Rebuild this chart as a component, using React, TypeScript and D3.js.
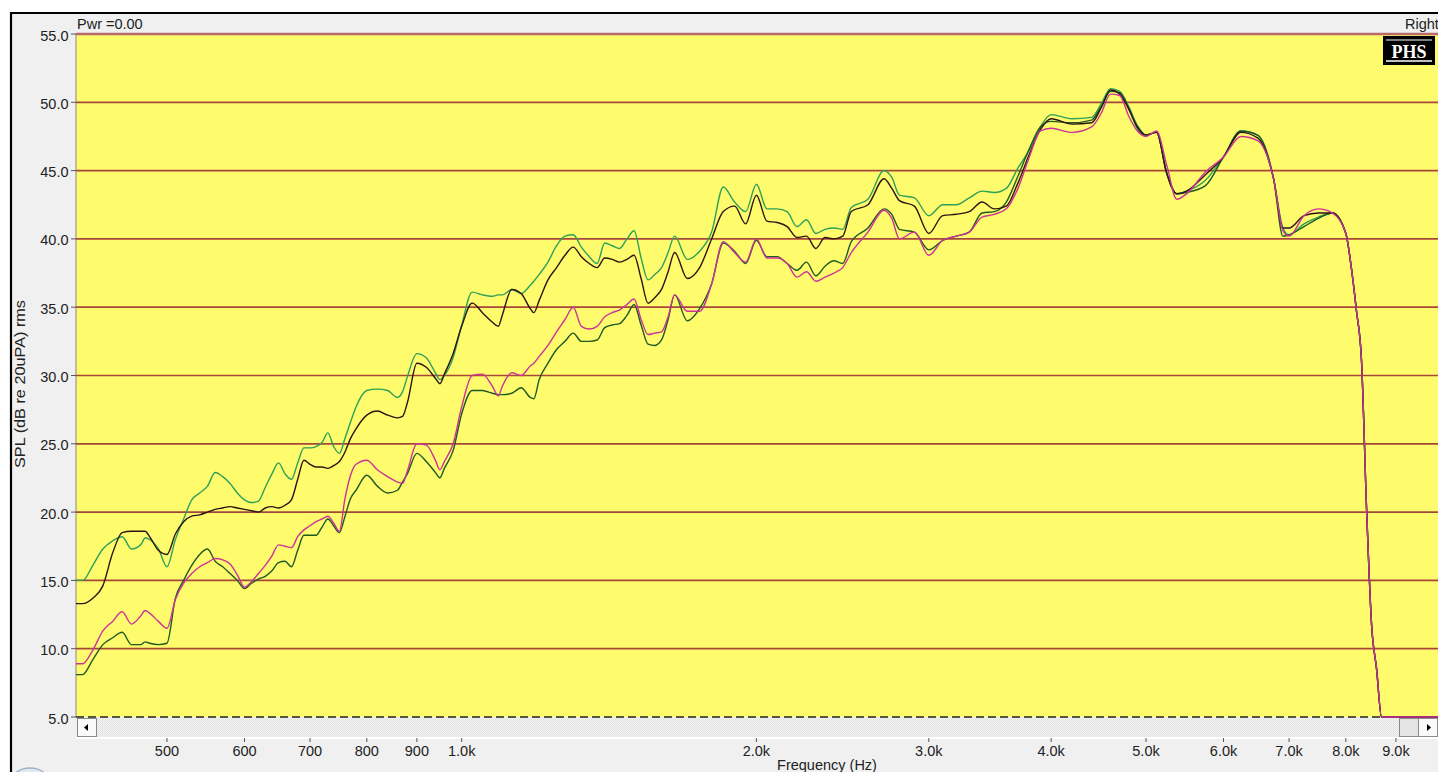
import React from "react";
import * as d3 from "d3";

// Frequency grid (Hz) shared by the four measured curves
const freqHz = [
  400, 410, 420, 430, 440, 450, 460, 470, 475, 480,
  490, 500, 510, 520, 530, 540, 550, 560, 570, 580,
  590, 600, 610, 620, 630, 640, 650, 660, 670, 680,
  690, 700, 710, 720, 730, 740, 750, 760, 770, 780,
  800, 820, 840, 860, 870, 880, 900, 920, 940, 950,
  960, 980, 1000, 1025, 1050, 1075, 1090, 1100, 1125, 1150,
  1175, 1185, 1200, 1225, 1250, 1275, 1300, 1325, 1350, 1375,
  1400, 1425, 1450, 1475, 1500, 1525, 1550, 1575, 1600, 1625,
  1650, 1700, 1750, 1800, 1850, 1900, 1950, 2000, 2050, 2100,
  2150, 2200, 2250, 2300, 2350, 2400, 2450, 2500, 2600, 2700,
  2750, 2800, 2900, 3000, 3100, 3200, 3300, 3400, 3500, 3600,
  3700, 3800, 3900, 4000, 4200, 4400, 4500, 4600, 4700, 4800,
  4900, 5000, 5125, 5250, 5375, 5500, 5750, 6000, 6250, 6500,
  6750, 6900, 7000, 7250, 7500, 7750, 8000, 8100, 8200, 8300,
  8400, 8500, 8600, 8700, 9000, 10000,
];

const greenDb = [
  15.0, 15.0, 16.1, 17.3, 17.9, 18.2, 17.3, 17.6, 18.1, 18.0,
  17.3, 16.0, 18.0, 19.5, 20.9, 21.4, 21.9, 22.9, 22.6, 22.1,
  21.4, 20.9, 20.7, 20.8, 21.8, 22.8, 23.6, 22.8, 22.4, 23.6,
  24.7, 24.7, 24.8, 25.1, 25.8, 24.8, 24.3, 25.4, 26.6, 27.7,
  28.9, 29.0, 28.9, 28.4, 28.8, 29.9, 31.6, 31.3, 30.2, 29.7,
  30.0, 31.3, 33.7, 36.1, 35.9, 35.8, 35.9, 35.9, 36.3, 36.0,
  36.6, 36.9, 37.4, 38.3, 39.5, 40.2, 40.3, 39.4, 38.7, 38.2,
  39.7, 39.5, 39.3, 40.0, 40.6, 38.6, 37.0, 37.4, 37.9, 39.0,
  40.2, 38.5, 39.1, 40.5, 43.8, 42.7, 42.0, 44.0, 42.2, 42.2,
  42.0, 40.9, 41.4, 40.4, 40.7, 40.8, 40.7, 42.3, 42.9, 45.0,
  44.5, 43.2, 43.0, 41.7, 42.5, 42.5, 43.0, 43.5, 43.4, 43.7,
  45.2, 46.5, 48.2, 49.1, 48.8, 48.9, 49.9, 51.0, 50.8, 49.7,
  48.3, 47.6, 47.8, 44.8, 43.3, 43.5, 44.3, 46.0, 47.9, 47.6,
  44.4, 40.8, 40.3, 41.1, 41.6, 41.9, 40.4, 38.0, 34.8, 31.1,
  20.2, 11.7, 8.5, 5.0, 5.0, 5.0,
];

const blackDb = [
  13.3, 13.3, 13.7, 14.6, 17.0, 18.5, 18.6, 18.6, 18.6, 18.2,
  17.2, 16.9, 18.4, 19.3, 19.7, 19.8, 20.0, 20.2, 20.3, 20.4,
  20.3, 20.2, 20.1, 20.0, 20.3, 20.4, 20.3, 20.5, 20.9, 22.4,
  23.8, 23.5, 23.3, 23.3, 23.2, 23.4, 23.7, 24.4, 25.4, 26.1,
  27.1, 27.4, 27.1, 26.9, 27.0, 28.0, 30.9, 30.6, 29.8, 29.4,
  30.1, 31.6, 33.6, 35.3, 34.6, 33.9, 33.6, 34.4, 36.3, 36.0,
  34.9, 34.6, 35.5, 37.0, 37.9, 38.8, 39.4, 38.7, 38.2, 37.9,
  38.6, 38.5, 38.3, 38.5, 38.8, 37.1, 35.3, 35.7, 36.3, 37.6,
  39.0, 37.1, 37.9, 40.0, 42.0, 42.4, 41.1, 43.2, 41.3, 41.2,
  40.9, 40.1, 40.2, 39.3, 40.1, 40.0, 40.2, 42.0, 42.5, 44.4,
  43.7, 42.8, 42.4, 40.4, 41.7, 41.8, 42.0, 42.7, 42.2, 42.4,
  44.1, 46.2, 48.0, 48.8, 48.4, 48.5, 49.6, 50.9, 50.6, 49.5,
  48.2, 47.6, 47.8, 44.8, 43.3, 43.5, 44.7, 46.0, 47.8, 47.4,
  44.4, 40.8, 40.8, 41.7, 41.9, 41.9, 40.4, 38.0, 34.8, 31.1,
  20.2, 11.7, 8.5, 5.0, 5.0, 5.0,
];

const magentaDb = [
  8.9, 8.9, 9.9, 11.3, 12.0, 12.7, 11.8, 12.4, 12.8, 12.6,
  12.0, 11.5, 13.6, 14.8, 15.5, 16.0, 16.3, 16.6, 16.5, 16.2,
  15.4, 14.5, 14.9, 15.5, 16.1, 16.8, 17.6, 17.5, 17.4, 18.2,
  18.7, 19.0, 19.3, 19.5, 19.7, 19.2, 18.6, 21.0, 22.7, 23.5,
  23.8, 23.1, 22.6, 22.2, 22.1, 23.0, 25.0, 24.9, 23.8, 23.1,
  23.7, 25.0, 27.7, 30.0, 30.1, 29.2, 28.5, 29.2, 30.2, 30.0,
  30.7, 30.9, 31.4, 32.2, 33.2, 34.1, 35.0, 33.6, 33.4, 33.6,
  34.3, 34.6, 34.8, 35.2, 35.6, 34.1, 33.0, 33.1, 33.2, 34.3,
  35.9, 34.7, 34.7, 36.7, 39.8, 39.0, 38.3, 40.0, 38.6, 38.6,
  38.2, 37.2, 37.6, 36.9, 37.2, 37.5, 37.9, 39.0, 40.5, 42.1,
  41.5, 40.0, 40.5, 38.8, 39.9, 40.2, 40.5, 41.6, 41.8, 42.2,
  43.7, 46.0, 47.9, 48.1, 47.8, 48.2, 49.2, 50.6, 50.5, 49.0,
  47.9, 47.5, 47.9, 45.4, 42.9, 43.3, 44.9, 46.0, 47.5, 47.2,
  44.4, 40.6, 40.2, 41.7, 42.2, 41.9, 40.4, 38.0, 34.8, 31.1,
  20.2, 11.7, 8.5, 5.0, 5.0, 5.0,
];

const darkGreenDb = [
  8.1, 8.1, 9.2, 10.3, 10.8, 11.2, 10.3, 10.3, 10.5, 10.4,
  10.3, 10.4, 13.7, 15.0, 16.1, 16.9, 17.3, 16.4, 16.0, 15.5,
  15.0, 14.4, 14.8, 15.1, 15.3, 15.7, 16.3, 16.4, 16.0, 17.2,
  18.3, 18.3, 18.3, 18.9, 19.5, 19.0, 18.5, 19.7, 21.0, 21.6,
  22.7, 21.9, 21.4, 21.6, 22.2, 22.8, 24.3, 23.7, 22.9, 22.5,
  23.2, 24.5, 27.2, 28.9, 28.9, 28.7, 28.6, 28.6, 28.7, 29.1,
  28.4, 28.3, 29.7, 30.9, 31.9, 32.5, 33.1, 32.5, 32.5, 32.6,
  33.5, 33.7, 33.8, 34.4, 35.2, 33.7, 32.3, 32.2, 32.6, 34.1,
  35.9, 34.0, 34.9, 36.7, 39.7, 39.1, 38.2, 39.9, 38.7, 38.7,
  38.2, 37.7, 38.3, 37.3, 38.0, 38.4, 38.2, 39.8, 40.8, 42.2,
  41.8, 40.7, 40.5, 39.2, 39.9, 40.2, 40.5, 41.9, 42.0, 42.7,
  44.6, 46.6, 48.2, 48.6, 48.5, 48.7, 49.7, 50.8, 50.7, 49.6,
  48.1, 47.6, 47.8, 44.8, 43.3, 43.4, 43.9, 46.0, 47.9, 47.6,
  44.4, 40.2, 40.3, 40.9, 41.5, 41.9, 40.4, 38.0, 34.8, 31.1,
  20.2, 11.7, 8.5, 5.0, 5.0, 5.0,
];

const yTicks = [55, 50, 45, 40, 35, 30, 25, 20, 15, 10, 5];
const yTickLabels = ["55.0", "50.0", "45.0", "40.0", "35.0", "30.0", "25.0", "20.0", "15.0", "10.0", "5.0"];
const xTicks = [500, 600, 700, 800, 900, 1000, 2000, 3000, 4000, 5000, 6000, 7000, 8000, 9000];
const xTickLabels = ["500", "600", "700", "800", "900", "1.0k", "2.0k", "3.0k", "4.0k", "5.0k", "6.0k", "7.0k", "8.0k", "9.0k"];

const series = [
  { name: "green", values: greenDb, color: "#2da05a" },
  { name: "darkgreen", values: darkGreenDb, color: "#1e5a22" },
  { name: "black", values: blackDb, color: "#2e1414" },
  { name: "magenta", values: magentaDb, color: "#cc3399" },
];

const FONT = "'Liberation Sans', Arial, sans-serif";
const FS = 14.5;

export default function App() {
  const W = 1438;
  const H = 772;
  const left = 76;
  const right = 1438;
  const top = 34;
  const bottom = 717;

  const x = d3.scaleLog().domain([403.7, 9936]).range([left, right]);
  const y = d3.scaleLinear().domain([5, 55]).range([bottom, top]);

  const makeLine = (vals: number[]) =>
    d3
      .line<number>()
      .x((_, i) => x(freqHz[i]))
      .y((d) => y(Math.max(5, d)))
      .curve(d3.curveMonotoneX)(vals) || "";

  return (
    <svg
      width={W}
      height={H}
      style={{ position: "absolute", left: 0, top: 0, display: "block", background: "#ffffff" }}
    >
      <defs>
        <clipPath id="plotClip">
          <rect x={left} y={top - 1} width={right - left} height={bottom - top + 2} />
        </clipPath>
        <pattern id="dither" width="2" height="2" patternUnits="userSpaceOnUse">
          <rect width="2" height="2" fill="#f4f4f4" />
          <rect width="1" height="1" fill="#e2e2e2" />
          <rect x="1" y="1" width="1" height="1" fill="#e2e2e2" />
        </pattern>
      </defs>

      {/* window panel */}
      <rect x={11} y={13} width={W - 11} height={H - 13} fill="#f0f0f0" />
      <line x1={11} y1={12} x2={11} y2={H} stroke="#000" strokeWidth={2.2} />
      <line x1={10} y1={13} x2={W} y2={13} stroke="#000" strokeWidth={2.2} />

      {/* bottom-left round button remnant */}
      <circle cx={30} cy={792} r={24} fill="#dfe9f2" stroke="#9fb4c8" strokeWidth={1.5} />

      {/* plot background */}
      <rect x={left} y={top} width={right - left} height={bottom - top} fill="#fefb6c" />
      <line x1={left} y1={top} x2={left} y2={bottom} stroke="#9a9a8a" strokeWidth={1.2} />

      {/* horizontal grid lines */}
      {yTicks.slice(1, -1).map((t) => (
        <line key={t} x1={left} x2={right} y1={y(t)} y2={y(t)} stroke="#a5483a" strokeWidth={1.7} />
      ))}
      <line x1={left} x2={right} y1={y(55)} y2={y(55)} stroke="#b86a6a" strokeWidth={2.6} />
      <line
        x1={left}
        x2={right}
        y1={y(5)}
        y2={y(5)}
        stroke="#222"
        strokeWidth={1.3}
        strokeDasharray="8,4"
      />

      {/* y ticks and labels */}
      {yTicks.map((t, i) => (
        <g key={t}>
          <line x1={71} x2={left} y1={y(t)} y2={y(t)} stroke="#555" strokeWidth={1} />
          <text
            x={68.5}
            y={y(t) + 6.5}
            textAnchor="end"
            fontFamily={FONT}
            fontSize={FS}
            fill="#222"
          >
            {yTickLabels[i]}
          </text>
        </g>
      ))}

      {/* curves */}
      <g clipPath="url(#plotClip)">
        {series.map((s) => (
          <path
            key={s.name}
            d={makeLine(s.values)}
            fill="none"
            stroke={s.color}
            strokeWidth={1.4}
            strokeLinejoin="round"
          />
        ))}
      </g>

      {/* PHS logo */}
      <rect x={1383} y={36} width={52} height={29} fill="#000" />
      <line x1={1386} x2={1432} y1={40} y2={40} stroke="#fff" strokeWidth={1} />
      <line x1={1386} x2={1432} y1={61} y2={61} stroke="#fff" strokeWidth={1.5} />
      <text
        x={1409}
        y={58}
        textAnchor="middle"
        fontFamily="'Liberation Serif', 'DejaVu Serif', serif"
        fontWeight="bold"
        fontSize={18}
        fill="#fff"
      >
        PHS
      </text>

      {/* scrollbar */}
      <rect x={left + 1} y={718} width={right - left - 1} height={19} fill="url(#dither)" />
      <rect x={77.5} y={718.5} width={19} height={18} fill="#fafafa" stroke="#8a8a8a" strokeWidth={1} />
      <path d="M 84 727.5 L 88 724 L 88 731 Z" fill="#000" />
      <rect x={1399.5} y={718.5} width={19} height={18} fill="#e4e4e4" stroke="#8a8a8a" strokeWidth={1} />
      <rect x={1418.5} y={718.5} width={19} height={18} fill="#fafafa" stroke="#8a8a8a" strokeWidth={1} />
      <path d="M 1431 727.5 L 1427 724 L 1427 731 Z" fill="#000" />
      <rect x={left} y={737} width={right - left} height={2} fill="#ffffff" />

      {/* x ticks and labels */}
      {xTicks.map((t, i) => (
        <g key={t}>
          <line x1={x(t)} x2={x(t)} y1={738} y2={742} stroke="#555" strokeWidth={1} />
          <text
            x={x(t)}
            y={756}
            textAnchor="middle"
            fontFamily={FONT}
            fontSize={FS}
            fill="#222"
          >
            {xTickLabels[i]}
          </text>
        </g>
      ))}

      <text x={827} y={770} textAnchor="middle" fontFamily={FONT} fontSize={FS} fill="#222">
        Frequency (Hz)
      </text>

      <text
        transform="translate(25,384) rotate(-90)"
        textAnchor="middle"
        fontFamily={FONT}
        fontSize={FS}
        textLength={168}
        lengthAdjust="spacingAndGlyphs"
        fill="#222"
      >
        SPL (dB re 20uPA) rms
      </text>

      <text x={77} y={28.5} fontFamily={FONT} fontSize={FS} fill="#222">
        Pwr =0.00
      </text>
      <text x={1405} y={28.5} fontFamily={FONT} fontSize={FS} fill="#222">
        Right
      </text>
    </svg>
  );
}
